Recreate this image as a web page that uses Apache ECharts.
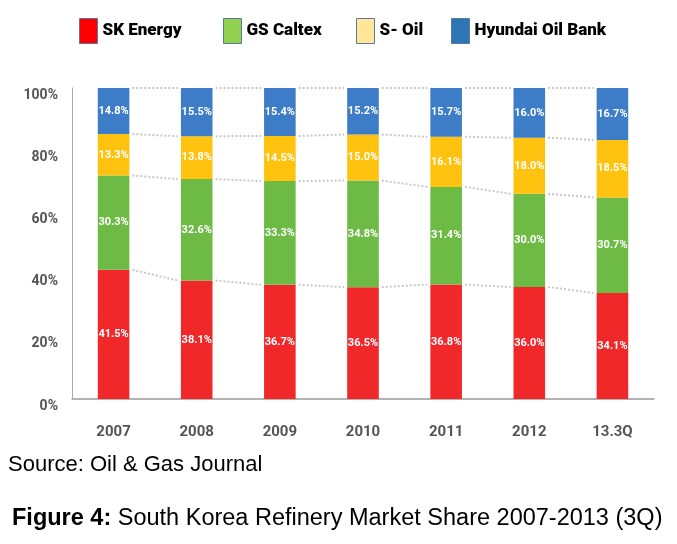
<!DOCTYPE html>
<html><head><meta charset="utf-8">
<script src="https://cdn.jsdelivr.net/npm/echarts@6/dist/echarts.min.js"></script>
<style>html,body{margin:0;padding:0;background:#fff}#c{width:677px;height:544px}</style>
</head><body><div id="c"></div>
<script>
var categories = ['2007','2008','2009','2010','2011','2012','13.3Q'];
var skEnergy = [41.5, 38.1, 36.7, 36.5, 36.8, 36.0, 34.1];
var gsCaltex = [30.3, 32.6, 33.3, 34.8, 31.4, 30.0, 30.7];
var sOil = [13.3, 13.8, 14.5, 15.0, 16.1, 18.0, 18.5];
var hyundai = [14.8, 15.5, 15.4, 15.2, 15.7, 16.0, 16.7];
var yTicks = ['0%','20%','40%','60%','80%','100%'];
var seriesNames = ['SK Energy','GS Caltex','S- Oil','Hyundai Oil Bank'];

var raw = [skEnergy, gsCaltex, sOil, hyundai];
var totals = categories.map(function(_, i){ return raw.reduce(function(s, a){ return s + a[i]; }, 0); });
var shares = raw.map(function(a){ return a.map(function(v, i){ return v / totals[i] * 100; }); });
var cum = categories.map(function(_, i){
  var c = [], s = 0;
  for (var k = 0; k < 4; k++) { s += shares[k][i]; c.push(s); }
  return c;
});

var barColors = ['#F1282A', '#6DBB45', '#FFC20E', '#3D7CC6'];
var legendColors = ['#FF0000', '#92D050', '#FFE699', '#2E75B6'];
var legendLeft = [79, 223, 356, 451];
var narrow = 'Roboto, "Liberation Sans", sans-serif';

var series = seriesNames.map(function(n, k){
  return {
    name: n, type: 'bar', stack: 'all', barWidth: '38%',
    itemStyle: { color: barColors[k] },
    label: {
      show: true, position: 'inside', color: '#fff', fontSize: 11,
      fontFamily: narrow, fontWeight: 'bold',
      formatter: function(p){ return raw[k][p.dataIndex].toFixed(1) + '%'; }
    },
    data: shares[k].map(function(v){ return { value: v }; })
  };
});

series.push({
  type: 'custom', silent: true, z: 1,
  renderItem: function(params, api){
    var i = api.value(0);
    if (i >= categories.length - 1) return { type: 'group', children: [] };
    var band = api.size([1, 0])[0];
    var half = band * 0.38 / 2;
    var ch = [];
    for (var k = 0; k < 4; k++) {
      var p1 = api.coord([i, cum[i][k]]);
      var p2 = api.coord([i + 1, cum[i + 1][k]]);
      ch.push({
        type: 'line',
        shape: { x1: p1[0] + half + 3, y1: p1[1], x2: p2[0] - half - 3, y2: p2[1] },
        style: { stroke: '#c8c8c8', lineWidth: 2, lineDash: [2, 2] }
      });
    }
    return { type: 'group', children: ch };
  },
  data: categories.map(function(_, i){ return [i, 0]; })
});

var legends = seriesNames.map(function(n, k){
  return {
    left: legendLeft[k], top: 18, padding: 0, itemWidth: 18, itemHeight: 25, itemGap: 6,
    selectedMode: false,
    textStyle: { fontSize: 17, fontWeight: 900, color: '#000', fontFamily: narrow },
    data: [{ name: n, icon: 'rect', itemStyle: { color: legendColors[k], borderColor: '#5a7a9a', borderWidth: 1 } }]
  };
});

var chart = echarts.init(document.getElementById('c'));
chart.setOption({
  animation: false,
  backgroundColor: '#fff',
  legend: legends,
  grid: { left: 72, right: 23, top: 88, bottom: 145 },
  xAxis: {
    type: 'category', data: categories,
    axisLine: { lineStyle: { color: '#999', width: 1.5 } },
    axisTick: { show: false },
    axisLabel: { color: '#555', fontSize: 15, fontFamily: narrow, fontWeight: 'bold', margin: 26 }
  },
  yAxis: {
    type: 'value', min: 0, max: 100, interval: 20,
    splitLine: { show: false },
    axisLine: { show: true, lineStyle: { color: '#aaa' } },
    axisTick: { show: false },
    axisLabel: {
      color: '#555', fontSize: 14, fontFamily: narrow, fontWeight: 'bold', margin: 14,
      verticalAlign: 'top',
      formatter: function(v){ return yTicks[Math.round(v / 20)]; }
    }
  },
  graphic: [
    { type: 'text', left: 8, top: 454, style: { text: 'Source: Oil & Gas Journal', font: '22px "Liberation Sans", Arial, sans-serif', fill: '#000' } },
    { type: 'text', left: 12, top: 507, style: {
      text: '{b|Figure 4:} South Korea Refinery Market Share 2007-2013 (3Q)',
      font: '23.5px "Liberation Sans", Arial, sans-serif', fill: '#000',
      rich: { b: { fontWeight: 'bold', fontSize: 23.5, fontFamily: '"Liberation Sans", Arial, sans-serif' } }
    } }
  ],
  series: series
});
</script></body></html>
